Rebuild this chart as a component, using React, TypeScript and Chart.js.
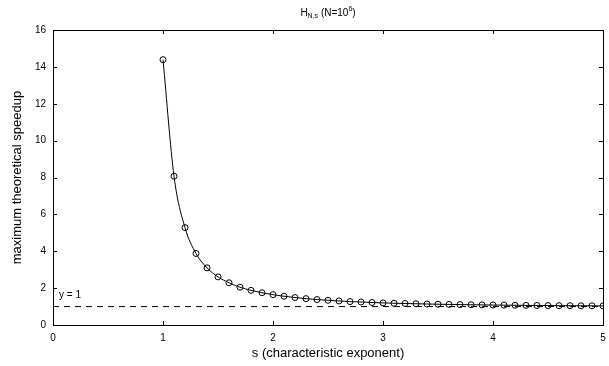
import React, { useEffect, useRef } from "react";
import { Chart, registerables } from "chart.js";

Chart.register(...registerables);

const sValues: number[] = [
  1.0, 1.1, 1.2, 1.3, 1.4, 1.5, 1.6, 1.7, 1.8, 1.9,
  2.0, 2.1, 2.2, 2.3, 2.4, 2.5, 2.6, 2.7, 2.8, 2.9,
  3.0, 3.1, 3.2, 3.3, 3.4, 3.5, 3.6, 3.7, 3.8, 3.9,
  4.0, 4.1, 4.2, 4.3, 4.4, 4.5, 4.6, 4.7, 4.8, 4.9, 5.0,
];
const speedup: number[] = [
  14.39, 8.07, 5.28, 3.88, 3.10, 2.61, 2.29, 2.05, 1.88, 1.75,
  1.645, 1.56, 1.49, 1.43, 1.38, 1.34, 1.305, 1.27, 1.25, 1.22,
  1.20, 1.18, 1.167, 1.152, 1.138, 1.127, 1.116, 1.106, 1.098, 1.09,
  1.082, 1.076, 1.07, 1.064, 1.059, 1.055, 1.05, 1.047, 1.043, 1.04, 1.037,
];
const refLineX: number[] = [0, 5];
const refLineY: number[] = [1, 1];
const xTicks: number[] = [0, 1, 2, 3, 4, 5];
const yTicks: number[] = [0, 2, 4, 6, 8, 10, 12, 14, 16];

const FONT = "'Liberation Sans', Arial, Helvetica, sans-serif";

const boxPlugin = {
  id: "boxTicks",
  afterDraw(chart: any) {
    const { ctx, chartArea, scales } = chart;
    const { left, right, top, bottom } = chartArea;
    ctx.save();
    ctx.strokeStyle = "#000";
    ctx.lineWidth = 1;
    ctx.strokeRect(Math.round(left) + 0.5, Math.round(top) + 0.5, Math.round(right - left), Math.round(bottom - top));
    const tl = 4;
    ctx.beginPath();
    for (const v of xTicks) {
      const x = Math.round(scales.x.getPixelForValue(v)) + 0.5;
      ctx.moveTo(x, bottom);
      ctx.lineTo(x, bottom - tl);
      ctx.moveTo(x, top);
      ctx.lineTo(x, top + tl);
    }
    for (const v of yTicks) {
      const y = Math.round(scales.y.getPixelForValue(v)) + 0.5;
      ctx.moveTo(left, y);
      ctx.lineTo(left + tl, y);
      ctx.moveTo(right, y);
      ctx.lineTo(right - tl, y);
    }
    ctx.stroke();

    // y = 1 label
    ctx.fillStyle = "#000";
    ctx.font = `10px ${FONT}`;
    ctx.textAlign = "left";
    ctx.textBaseline = "middle";
    ctx.fillText("y = 1", scales.x.getPixelForValue(0) + 6, scales.y.getPixelForValue(1) - 11);

    // title H_{N,s} (N=10^6)
    const cx = (left + right) / 2;
    const cy = 13;
    const big = `10px ${FONT}`;
    const small = `7px ${FONT}`;
    const parts: { t: string; f: string; dy: number }[] = [
      { t: "H", f: big, dy: 0 },
      { t: "N,s", f: small, dy: 3 },
      { t: " (N=10", f: big, dy: 0 },
      { t: "6", f: small, dy: -4 },
      { t: ")", f: big, dy: 0 },
    ];
    let total = 0;
    for (const p of parts) {
      ctx.font = p.f;
      total += ctx.measureText(p.t).width;
    }
    let x = cx - total / 2;
    for (const p of parts) {
      ctx.font = p.f;
      ctx.fillText(p.t, x, cy + p.dy);
      x += ctx.measureText(p.t).width;
    }
    ctx.restore();
  },
};

export default function App() {
  const ref = useRef<HTMLCanvasElement | null>(null);
  useEffect(() => {
    if (!ref.current) return;
    const chart = new Chart(ref.current, {
      type: "line",
      data: {
        datasets: [
          {
            data: sValues.map((s, i) => ({ x: s, y: speedup[i] })),
            borderColor: "#000",
            borderWidth: 1,
            pointRadius: 3,
            pointBorderWidth: 1,
            pointBorderColor: "#000",
            pointBackgroundColor: "rgba(0,0,0,0)",
            cubicInterpolationMode: "monotone",
            fill: false,
          },
          {
            data: refLineX.map((x, i) => ({ x, y: refLineY[i] })),
            borderColor: "#000",
            borderWidth: 1,
            borderDash: [6, 5],
            pointRadius: 0,
            fill: false,
          },
        ],
      },
      options: {
        animation: false,
        responsive: false,
        devicePixelRatio: 1,
        layout: { padding: { top: 30, right: 6, left: 0, bottom: 0 } },
        plugins: { legend: { display: false }, tooltip: { enabled: false }, title: { display: false } },
        scales: {
          x: {
            type: "linear",
            min: 0,
            max: 5,
            grid: { display: false, drawTicks: false },
            border: { display: false },
            afterBuildTicks: (s: any) => { s.ticks = xTicks.map((v) => ({ value: v })); },
            afterFit: (s: any) => { s.height = 41; s.paddingLeft = 0; s.paddingRight = 0; },
            ticks: { color: "#000", font: { family: FONT, size: 10 }, padding: 7, maxRotation: 0 },
            title: { display: true, text: "s (characteristic exponent)", color: "#000", font: { family: FONT, size: 13 }, padding: { top: 0, bottom: 5 } },
          },
          y: {
            type: "linear",
            min: 0,
            max: 16,
            grid: { display: false, drawTicks: false },
            border: { display: false },
            afterBuildTicks: (s: any) => { s.ticks = yTicks.map((v) => ({ value: v })); },
            afterFit: (s: any) => { s.width = 53; s.paddingTop = 0; s.paddingBottom = 0; },
            ticks: { color: "#000", font: { family: FONT, size: 10 }, padding: 7 },
            title: { display: true, text: "maximum theoretical speedup", color: "#000", font: { family: FONT, size: 13 }, padding: { top: 10, bottom: 0 } },
          },
        },
      },
      plugins: [boxPlugin],
    } as any);
    return () => chart.destroy();
  }, []);
  return (
    <div style={{ position: "absolute", left: 0, top: 0, width: 609, height: 366, background: "#fff" }}>
      <canvas ref={ref} width={609} height={366} style={{ display: "block" }} />
    </div>
  );
}
